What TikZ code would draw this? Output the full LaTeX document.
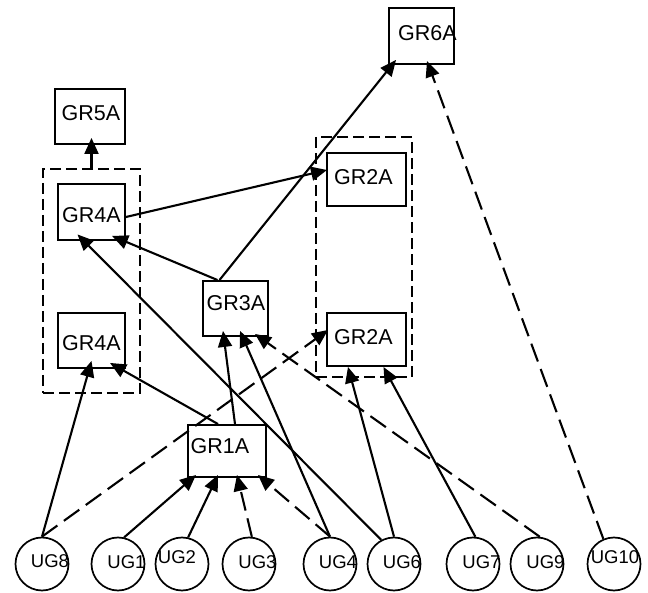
\documentclass[tikz,border=0pt]{standalone}
\usepackage{fontspec}
\setmainfont{Liberation Sans}
\usetikzlibrary{arrows.meta}
\begin{document}
\begin{tikzpicture}[x=1pt,y=-1pt,
  grbox/.style={draw,line width=1.9pt,inner sep=0pt,rectangle},
  grp/.style={draw,line width=1.8pt,dash pattern=on 11pt off 5pt,inner sep=0pt,rectangle},
  ug/.style={draw,circle,line width=1.7pt,minimum size=53pt,inner sep=0pt},
  grtxt/.style={font=\fontsize{21.5}{24}\selectfont,inner sep=0pt},
  ugtxt/.style={font=\fontsize{18.5}{21}\selectfont,inner sep=0pt},
  link/.style={line width=2.1pt,-{Triangle[length=16pt,width=14pt]}},
  dlink/.style={link,dash pattern=on 19pt off 8pt}]
\useasboundingbox (0,0) rectangle (648,593);
% dashed groups
\node[grp,minimum width=97pt,minimum height=224pt] (grpL) at (91.5,281) {};
\node[grp,minimum width=96pt,minimum height=240pt] (grpR) at (364,257) {};
% GR boxes
\node[grbox,minimum width=65pt,minimum height=56pt,label={[grtxt,xshift=6pt,yshift=3pt]center:GR6A}] (gr6a) at (421.5,36) {};
\node[grbox,minimum width=70pt,minimum height=55pt,label={[grtxt,xshift=1pt,yshift=3.5pt]center:GR5A}] (gr5a) at (90,116.5) {};
\node[grbox,minimum width=67pt,minimum height=56pt,label={[grtxt,yshift=-3pt]center:GR4A}] (gr4t) at (91.5,212) {};
\node[grbox,minimum width=67pt,minimum height=55pt,label={[grtxt,yshift=-2.5pt]center:GR4A}] (gr4b) at (91.5,340.5) {};
\node[grbox,minimum width=65pt,minimum height=55pt,label={[grtxt,xshift=0.5pt,yshift=5.5pt]center:GR3A}] (gr3a) at (235.5,308.5) {};
\node[grbox,minimum width=79pt,minimum height=53pt,label={[grtxt,xshift=-3pt,yshift=2.5pt]center:GR2A}] (gr2t) at (366.5,179.5) {};
\node[grbox,minimum width=79pt,minimum height=53pt,label={[grtxt,xshift=-3pt,yshift=2pt]center:GR2A}] (gr2b) at (366.5,339.5) {};
\node[grbox,minimum width=78pt,minimum height=52pt,label={[grtxt,xshift=-7pt,yshift=5pt]center:GR1A}] (gr1a) at (227,451) {};
% UG circles
\node[ug,label={[ugtxt,xshift=8pt,yshift=2.5pt]center:UG8}] (ug8) at (42,564) {};
\node[ug,label={[ugtxt,xshift=8.5pt,yshift=1.5pt]center:UG1}] (ug1) at (118,564) {};
\node[ug,label={[ugtxt,xshift=-5pt,yshift=7pt]center:UG2}] (ug2) at (182,564) {};
\node[ug,label={[ugtxt,xshift=8.5pt,yshift=1.5pt]center:UG3}] (ug3) at (249,564) {};
\node[ug,label={[ugtxt,xshift=8pt,yshift=1.5pt]center:UG4}] (ug4) at (330,564) {};
\node[ug,label={[ugtxt,xshift=8pt,yshift=1.5pt]center:UG6}] (ug6) at (394,564) {};
\node[ug,label={[ugtxt,xshift=8.5pt,yshift=1.5pt]center:UG7}] (ug7) at (473,564) {};
\node[ug,label={[ugtxt,xshift=8.5pt,yshift=1.5pt]center:UG9}] (ug9) at (537,564) {};
\node[ug,label={[ugtxt,xshift=1pt,yshift=7pt]center:UG10}] (ug10) at (614,564) {};
% connectors
\draw[link] (grpL.north) -- ([yshift=7pt]grpL.north |- gr5a.south);
\draw[link] ([yshift=-5pt]gr4t.east) -- ([xshift=1pt,yshift=9.5pt]gr2t.west);
\draw[link] ([xshift=-16pt]gr3a.north) -- ([xshift=-25.5pt,yshift=5pt]gr6a.south);
\draw[link] ([xshift=-18pt]gr3a.north) -- ([xshift=20.5pt,yshift=5pt]gr4t.south);
\draw[link] (ug6.118) -- ([xshift=-14pt,yshift=6.5pt]gr4t.south);
\draw[link] ([xshift=-9pt]gr1a.north) -- ([xshift=18.5pt,yshift=6pt]gr4b.south);
\draw[link] (ug8.north) -- ([yshift=8pt]gr4b.south);
\draw[dlink] (ug8.north) -- ([xshift=2pt,yshift=9.5pt]gr2b.west);
\draw[link] ([xshift=8pt]gr1a.north) -- ([xshift=-12.5pt,yshift=6pt]gr3a.south);
\draw[link] (ug4.north) -- ([xshift=4.5pt,yshift=6pt]gr3a.south);
\draw[dlink] (ug9.84) -- ([xshift=19.5pt,yshift=3pt]gr3a.south);
\draw[link] (ug6.north) -- ([xshift=-18.5pt]gr2b.south);
\draw[link] (ug7.85) -- ([xshift=17pt]gr2b.south);
\draw[dlink] (ug10.113) -- ([xshift=5.5pt,yshift=4pt]gr6a.south);
\draw[link] (ug1.77) -- ([xshift=-31pt,yshift=3pt]gr1a.south);
\draw[link] (ug2.77) -- ([xshift=-9pt,yshift=3pt]gr1a.south);
\draw[dlink] (ug3.84) -- ([xshift=10pt,yshift=3pt]gr1a.south);
\draw[dlink] (ug4.north) -- ([xshift=31pt,yshift=3pt]gr1a.south);
\end{tikzpicture}
\end{document}
